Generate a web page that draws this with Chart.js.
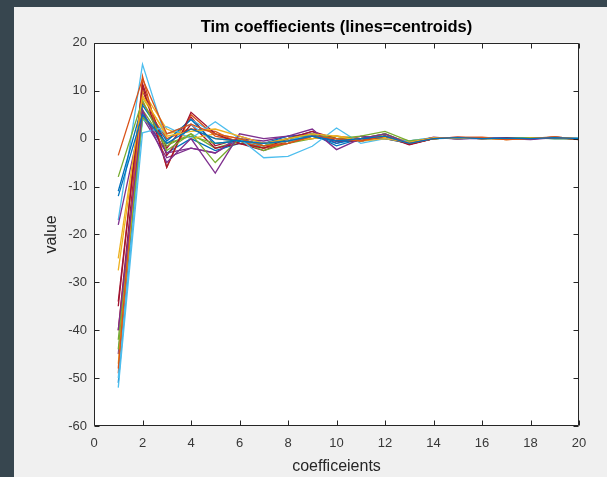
<!DOCTYPE html>
<html>
<head>
<meta charset="utf-8">
<script src="https://cdn.jsdelivr.net/npm/chart.js@4.4.1/dist/chart.umd.min.js"></script>
<style>
  html, body { margin: 0; padding: 0; background: #37464f; }
  #fig { position: absolute; left: 14px; top: 7px; width: 593px; height: 470px; background: #f0f0f0; }
  canvas { display: block; }
</style>
</head>
<body>
<div id="fig"><canvas id="chart" width="593" height="470"></canvas></div>
<script>
// coefficient index (x axis)
const coeffIndex = [1, 2, 3, 4, 5, 6, 7, 8, 9, 10, 11, 12, 13, 14, 15, 16, 17, 18, 19, 20];

// one array per centroid line
const centroid01 = [-12, 5, -1, 2, 0, -0.5, -1, -0.5, 0.5, -0.5, 0, 0.5, -1, 0, 0.2, 0, 0.1, 0, 0.2, 0];
const centroid02 = [-3.5, 12.5, 1, 3, 1, 0, -1.5, -1, 0.5, 0, -0.5, 0.5, -1, 0, 0.3, 0.2, -0.2, 0, 0.3, -0.1];
const centroid03 = [-25, 9, 0.5, 1.5, 2, 0.5, -1, 0, 1, 0.5, -0.5, 0, -0.8, 0.2, 0, 0.2, -0.2, 0.1, 0.3, 0];
const centroid04 = [-40, 6, -5, 0, -7.2, 1, 0, 0.5, 2, -2.3, 0, 1, -1, 0.3, -0.1, 0.2, 0, -0.2, 0.2, 0];
const centroid05 = [-8, 8, -2.5, 1, -5, 0, -1.5, 0, 1, 0, 0.5, 1.5, -0.5, 0, 0.2, 0, 0, 0.2, 0, 0];
const centroid06 = [-52, 1.2, 2.5, 0, 3.5, 0, -4, -3.7, -1.6, 2.2, -1, 0, -0.5, 0.2, 0, 0.2, 0, 0.1, 0.1, 0.2];
const centroid07 = [-34, 11, -6, 5.5, 1, -1, -2, 0, 1.5, 0, -0.5, 0.5, -1.2, 0, 0.3, 0, 0.2, -0.1, 0.3, -0.2];
const centroid08 = [-11, 7, -0.5, 4, -1, -0.5, -1, 0.5, 0.5, -1, 0, 0, -1, 0.2, 0, 0.1, 0, 0.2, 0, 0];
const centroid09 = [-48, 13, -6, 5, 0.5, -0.5, -2, -1, 0.5, 0, 0, 0.5, -1, 0, 0.2, 0.3, -0.1, 0.1, 0.2, -0.2];
const centroid10 = [-47, 10, 2, 0, 1, 0, -1.5, -0.5, 0, 0.5, 0, 0.2, -0.5, 0, 0.2, 0, 0, 0.2, 0.1, 0];
const centroid11 = [-18, 5.5, -3, -2, -3, 0.5, -1, 0, 1.5, -1, 0.5, 0, -0.8, 0.2, 0, 0, 0.2, 0, 0.3, 0];
const centroid12 = [-44, 4.5, -1, 0.5, -1, -0.5, -2.5, -1, 0, 0.5, -0.5, 1, -1, 0, 0.2, 0.2, 0, 0, 0.2, 0];
const centroid13 = [-50, 4, 1, 3, -1, -0.5, -1.5, -0.5, 1, 0, -0.5, 0.5, -0.8, 0.2, 0.1, 0, 0.2, 0.1, 0, 0];
const centroid14 = [-35, 11.5, -3.5, 3, -2, -1, -2.5, -0.5, 0.5, -0.5, -0.5, 0.5, -1.3, 0, 0.2, 0, 0, 0.1, 0.3, 0];
const centroid15 = [-51, 5, -3, 0, -2.5, -1, -1.5, 0, 1, -1.5, 0, 0.5, -1, 0, 0.1, 0.2, 0, 0.1, 0.2, 0];
const centroid16 = [-49, 7.5, 0, 2, 1.5, -1, -2, -0.5, 0, 0.5, 0, 0, -1, 0.2, 0, 0.2, -0.2, 0, 0.3, 0];
const centroid17 = [-27.5, 8.5, 1, 2, 0, -0.5, -1, 0, 0.5, 0, 0, 0.5, -0.5, 0, 0.2, 0.1, 0, 0.1, 0, 0];
const centroid18 = [-45, 4.5, -4, -2, -3, 0, -0.5, 0.5, 1, -0.5, -0.5, 0.5, -1, 0.1, 0, 0.2, 0, 0, 0.2, 0];
const centroid19 = [-42, 6, -1.5, 1, -2, -0.5, -2, -1, 0.5, 0, 0, 1, -1, 0, 0.2, 0.1, 0, 0.2, 0.1, 0];
const centroid20 = [-17, 15.5, -0.5, 4, 1, -1, -1, 0, 0.5, 0, -0.5, 0, -0.5, 0.2, 0, 0.2, 0, 0.1, 0.2, 0];
const centroid21 = [-40, 10, -2, 4.5, -1.5, 0, -1.5, -0.5, 1, -0.5, 0, 1, -1.2, 0, 0.2, 0, 0.1, 0, 0.2, -0.1];

const allCentroids = [centroid01, centroid02, centroid03, centroid04, centroid05, centroid06, centroid07,
  centroid08, centroid09, centroid10, centroid11, centroid12, centroid13, centroid14,
  centroid15, centroid16, centroid17, centroid18, centroid19, centroid20, centroid21];

// matlab default colour order
const lineColors = ["#0072BD", "#D95319", "#EDB120", "#7E2F8E", "#77AC30", "#4DBEEE", "#A2142F"];

const xTicks = [0, 2, 4, 6, 8, 10, 12, 14, 16, 18, 20];
const yTicks = [-60, -50, -40, -30, -20, -10, 0, 10, 20];

const fontFamily = "'Liberation Sans', Arial, Helvetica, sans-serif";
const axisColor = "#262626";
const labelColor = "#383838";

const datasets = allCentroids.map((vals, i) => ({
  label: "centroid " + (i + 1),
  data: vals.map((v, j) => ({ x: coeffIndex[j], y: v })),
  borderColor: lineColors[i % lineColors.length],
  borderWidth: 1.3,
  pointRadius: 0,
  tension: 0,
  fill: false,
}));

// white axes background, box and inward tick marks like matlab
const axesFrame = {
  id: "axesFrame",
  beforeDraw(chart) {
    const { ctx, chartArea: a } = chart;
    ctx.save();
    ctx.fillStyle = "#ffffff";
    ctx.fillRect(a.left, a.top, a.right - a.left, a.bottom - a.top);
    ctx.restore();
  },
  afterDraw(chart) {
    const { ctx, chartArea: a, scales } = chart;
    const tl = 5;
    const L = Math.round(a.left) + 0.5, R = Math.round(a.right) - 0.5;
    const T = Math.round(a.top) + 0.5, B = Math.round(a.bottom) - 0.5;
    ctx.save();
    ctx.strokeStyle = axisColor;
    ctx.lineWidth = 1;
    ctx.beginPath();
    ctx.rect(L, T, R - L, B - T);
    scales.x.ticks.forEach((t, i) => {
      const px = Math.round(scales.x.getPixelForTick(i)) + 0.5;
      ctx.moveTo(px, B); ctx.lineTo(px, B - tl);
      ctx.moveTo(px, T); ctx.lineTo(px, T + tl);
    });
    scales.y.ticks.forEach((t, i) => {
      const py = Math.round(scales.y.getPixelForTick(i)) + 0.5;
      ctx.moveTo(L, py); ctx.lineTo(L + tl, py);
      ctx.moveTo(R, py); ctx.lineTo(R - tl, py);
    });
    ctx.stroke();
    ctx.restore();
  }
};

new Chart(document.getElementById("chart"), {
  type: "line",
  data: { datasets: datasets },
  plugins: [axesFrame],
  options: {
    responsive: false,
    animation: false,
    devicePixelRatio: 1,
    layout: { padding: { left: 0, right: 28, top: 0, bottom: 0 } },
    plugins: {
      legend: { display: false },
      tooltip: { enabled: false },
      title: {
        display: true,
        fullSize: false,
        text: "Tim coeffiecients (lines=centroids)",
        color: "#000000",
        font: { family: fontFamily, size: 16.5, weight: "bold" },
        padding: { top: 11, bottom: 5 },
      },
    },
    scales: {
      x: {
        type: "linear",
        min: 0,
        max: 20,
        afterBuildTicks: (scale) => { scale.ticks = xTicks.map((v) => ({ value: v })); },
        afterFit: (scale) => { scale.height = 51; },
        grid: { display: false, drawTicks: false },
        border: { display: false },
        ticks: { color: labelColor, padding: 10, maxRotation: 0, font: { family: fontFamily, size: 13 } },
        title: {
          display: true,
          text: "coefficeients",
          color: axisColor,
          font: { family: fontFamily, size: 16 },
          padding: { top: 0, bottom: 1 },
        },
      },
      y: {
        type: "linear",
        min: -60,
        max: 20,
        afterBuildTicks: (scale) => { scale.ticks = yTicks.map((v) => ({ value: v })); },
        afterFit: (scale) => { scale.width = 80; },
        grid: { display: false, drawTicks: false },
        border: { display: false },
        ticks: { color: labelColor, padding: 7, font: { family: fontFamily, size: 13 } },
        title: {
          display: true,
          text: "value",
          color: axisColor,
          font: { family: fontFamily, size: 16 },
          padding: { top: 28, bottom: 0 },
        },
      },
    },
  },
});
</script>
</body>
</html>
